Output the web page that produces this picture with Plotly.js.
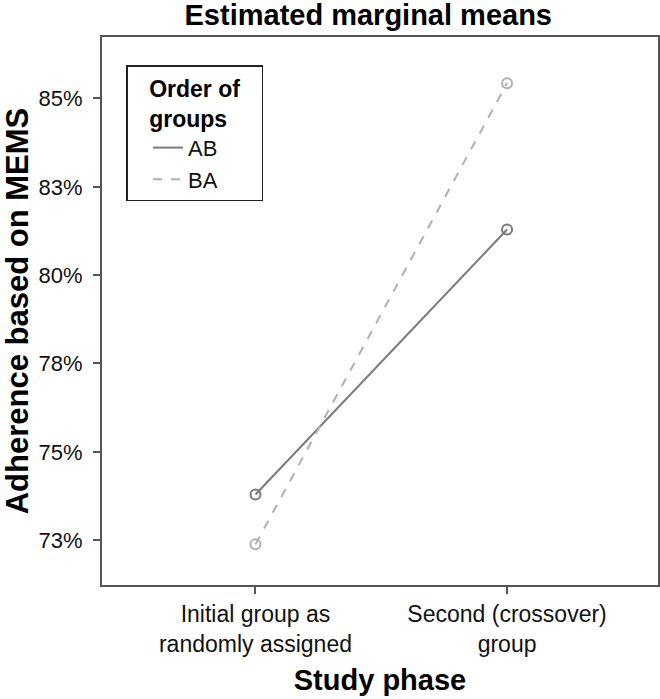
<!DOCTYPE html>
<html><head><meta charset="utf-8">
<script src="https://cdn.plot.ly/plotly-3.0.1.min.js"></script>
<style>body{margin:0;background:#fff}#chart{width:660px;height:699px}</style>
</head><body><div id="chart"></div>
<script>
const phases = ["Initial group as<br>randomly assigned", "Second (crossover)<br>group"];
const groupAB = [73.79, 81.29];
const groupBA = [72.38, 85.43];
const yTickVals = [72.5, 75, 77.5, 80, 82.5, 85];
const yTickText = ["73%", "75%", "78%", "80%", "83%", "85%"];

const font = "Liberation Sans, Arial, sans-serif";
const cAB = "#7a7a7a", cBA = "#b0b0b0";
const traces = [
  {x: phases, y: groupAB, name: "AB", type: "scatter", mode: "lines",
   line: {color: cAB, width: 2, dash: "solid"}},
  {x: phases, y: groupBA, name: "BA", type: "scatter", mode: "lines",
   line: {color: cBA, width: 2, dash: "dash"}},
  {x: phases, y: groupAB, name: "AB", type: "scatter", mode: "markers", showlegend: false,
   marker: {symbol: "circle-open", size: 10, color: cAB, line: {width: 2}}},
  {x: phases, y: groupBA, name: "BA", type: "scatter", mode: "markers", showlegend: false,
   marker: {symbol: "circle-open", size: 10, color: cBA, line: {width: 2}}}
];
const layout = {
  width: 660, height: 699,
  margin: {l: 102, r: 2, t: 37, b: 114},
  paper_bgcolor: "#fff", plot_bgcolor: "#fff",
  font: {family: font, color: "#111", size: 20},
  title: {text: "<b>Estimated marginal means</b>", font: {size: 29, family: font, color: "#000"},
          x: 0.558, xanchor: "center", y: 0.979, yanchor: "middle"},
  xaxis: {type: "category", range: [-0.61, 1.6], showline: true, linecolor: "#555", linewidth: 2,
          mirror: true, ticks: "outside", ticklen: 7, tickwidth: 2, tickcolor: "#555",
          showgrid: false, zeroline: false, tickfont: {size: 23, family: font, color: "#111"},
          title: {text: "<b>Study phase</b>", font: {size: 29, family: font, color: "#000"}, standoff: 14}},
  yaxis: {range: [71.23, 86.74], tickvals: yTickVals, ticktext: yTickText,
          showline: true, linecolor: "#555", linewidth: 2, mirror: true,
          ticks: "outside", ticklen: 7, tickwidth: 2, tickcolor: "#555", ticklabelstandoff: 6,
          showgrid: false, zeroline: false, tickfont: {size: 22, family: font, color: "#111"},
          title: {text: "<b>Adherence based on MEMS</b>", font: {size: 31, family: font, color: "#000"}, standoff: 4}},
  showlegend: true,
  legend: {x: 0.044, y: 0.948, xanchor: "left", yanchor: "top",
           bordercolor: "#222", borderwidth: 1.5, bgcolor: "#fff", indentation: 20,
           font: {size: 22, family: font, color: "#111"}, itemwidth: 30, tracegroupgap: 0,
           title: {text: "<b>&nbsp;&nbsp;&nbsp;Order of&nbsp;&nbsp;&nbsp;<br>&nbsp;&nbsp;&nbsp;groups</b>", font: {size: 23, family: font, color: "#000"}, side: "top"}}
};
Plotly.newPlot("chart", traces, layout, {displayModeBar: false, staticPlot: true});
</script></body></html>
